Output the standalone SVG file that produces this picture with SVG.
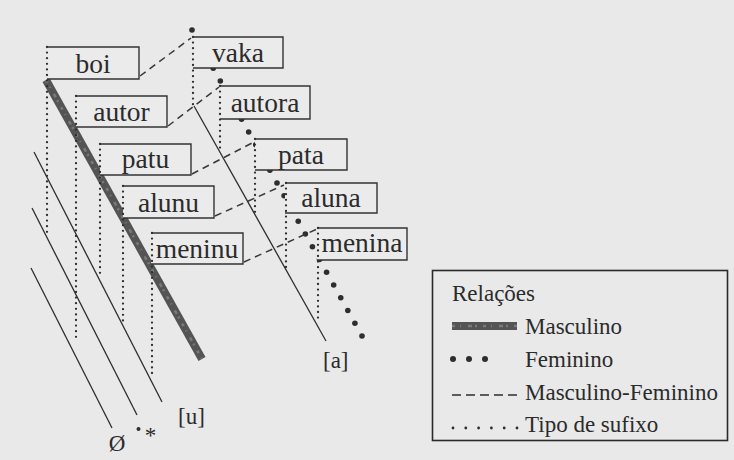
<svg xmlns="http://www.w3.org/2000/svg" width="734" height="460" viewBox="0 0 734 460">
<defs>
<style>
.bg{fill:#e9e9e9}
.box{fill:#ebebeb;stroke:#333;stroke-width:1.4}
.lbl{font-family:"Liberation Serif","Times New Roman",serif;font-size:27.5px;fill:#2b2b2b;text-anchor:middle}
.txt{font-family:"Liberation Serif","Times New Roman",serif;font-size:23px;fill:#2b2b2b}
.thin{stroke:#2e2e2e;stroke-width:1.3;fill:none}
.dash{stroke:#383838;stroke-width:1.5;fill:none;stroke-dasharray:7 5}
.dot{stroke:#2e2e2e;stroke-width:2.3;fill:none;stroke-dasharray:0 5.6;stroke-linecap:round}
.fem{fill:#2e2e2e}
.masc{stroke:#545454;stroke-width:8;fill:none}
.masctex{stroke:#7a7a7a;stroke-width:2.5;fill:none;stroke-dasharray:3 5 1 7 4 3 2 6}
</style>
</defs>
<rect class="bg" x="0" y="0" width="734" height="460"/>

<g id="connectors">
  <!-- suffix-type guide lines -->
  <line class="thin" x1="31" y1="268" x2="112" y2="428"/>
  <line class="thin" x1="32" y1="208" x2="137" y2="415"/>
  <line class="thin" x1="34" y1="152" x2="162" y2="402"/>
  <line class="thin" x1="194" y1="106" x2="326" y2="341"/>
  <!-- Masculino relation -->
  <line class="masc" x1="46" y1="80" x2="202" y2="359"/>
  <line class="masctex" x1="46" y1="80" x2="202" y2="359"/>
  <!-- Feminino relation -->
  <g id="feminino">
    <circle class="fem" cx="192" cy="30" r="2.8"/>
    <circle class="fem" cx="199.08" cy="42.75" r="2.8"/>
    <circle class="fem" cx="206.17" cy="55.5" r="2.8"/>
    <circle class="fem" cx="213.25" cy="68.25" r="2.8"/>
    <circle class="fem" cx="220.33" cy="81" r="2.8"/>
    <circle class="fem" cx="227.42" cy="93.75" r="2.8"/>
    <circle class="fem" cx="234.5" cy="106.5" r="2.8"/>
    <circle class="fem" cx="241.58" cy="119.25" r="2.8"/>
    <circle class="fem" cx="248.67" cy="132" r="2.8"/>
    <circle class="fem" cx="255.75" cy="144.75" r="2.8"/>
    <circle class="fem" cx="262.83" cy="157.5" r="2.8"/>
    <circle class="fem" cx="269.92" cy="170.25" r="2.8"/>
    <circle class="fem" cx="277" cy="183" r="2.8"/>
    <circle class="fem" cx="284.08" cy="195.75" r="2.8"/>
    <circle class="fem" cx="291.17" cy="208.5" r="2.8"/>
    <circle class="fem" cx="298.25" cy="221.25" r="2.8"/>
    <circle class="fem" cx="305.33" cy="234" r="2.8"/>
    <circle class="fem" cx="312.42" cy="246.75" r="2.8"/>
    <circle class="fem" cx="319.5" cy="259.5" r="2.8"/>
    <circle class="fem" cx="326.58" cy="272.25" r="2.8"/>
    <circle class="fem" cx="333.67" cy="285" r="2.8"/>
    <circle class="fem" cx="340.75" cy="297.75" r="2.8"/>
    <circle class="fem" cx="347.83" cy="310.5" r="2.8"/>
    <circle class="fem" cx="354.92" cy="323.25" r="2.8"/>
    <circle class="fem" cx="362" cy="336" r="2.8"/>
  </g>
  <!-- Masculino-Feminino -->
  <line class="dash" x1="140" y1="76" x2="191" y2="38"/>
  <line class="dash" x1="168" y1="126" x2="219" y2="87"/>
  <line class="dash" x1="192" y1="174" x2="254" y2="142"/>
  <line class="dash" x1="215" y1="216" x2="284" y2="185"/>
  <line class="dash" x1="244" y1="262" x2="317" y2="229"/>
</g>

<g id="boi"><path class="box" d="M47,47 H139 V79 H47"/><text class="lbl" x="93" y="73">boi</text></g>
<g id="autor"><path class="box" d="M76,96 H167 V127 H76"/><text class="lbl" x="121.5" y="121">autor</text></g>
<g id="patu"><path class="box" d="M100,144 H191 V175 H100"/><text class="lbl" x="145.5" y="168">patu</text></g>
<g id="alunu"><path class="box" d="M123,186 H214 V218 H123"/><text class="lbl" x="168.5" y="212">alunu</text></g>
<g id="meninu"><path class="box" d="M151,233 H243 V264 H151"/><text class="lbl" x="197" y="258">meninu</text></g>
<g id="vaka"><path class="box" d="M193,37 H283 V68 H193"/><text class="lbl" x="238" y="62">vaka</text></g>
<g id="autora"><path class="box" d="M220,86 H310 V119 H220"/><text class="lbl" x="265" y="112">autora</text></g>
<g id="pata"><path class="box" d="M255,139 H347 V170 H255"/><text class="lbl" x="301" y="164">pata</text></g>
<g id="aluna"><path class="box" d="M285,183 H377 V213 H285"/><text class="lbl" x="331" y="207">aluna</text></g>
<g id="menina"><path class="box" d="M317,228 H407 V260 H317"/><text class="lbl" x="362" y="252">menina</text></g>

<g id="suffix-lines">
  <line class="dot" x1="47" y1="47" x2="47" y2="233"/>
  <line class="dot" x1="76" y1="96" x2="76" y2="338"/>
  <line class="dot" x1="100" y1="144" x2="100" y2="278"/>
  <line class="dot" x1="123" y1="186" x2="123" y2="322"/>
  <line class="dot" x1="152" y1="233" x2="152" y2="376"/>
  <line class="dot" x1="193" y1="37" x2="193" y2="107"/>
  <line class="dot" x1="220" y1="86" x2="220" y2="152"/>
  <line class="dot" x1="255" y1="139" x2="255" y2="214"/>
  <line class="dot" x1="286" y1="183" x2="286" y2="268"/>
  <line class="dot" x1="318" y1="228" x2="318" y2="322"/>
</g>

<g id="suffix-labels">
  <text class="txt" x="117" y="451" text-anchor="middle" font-size="24">Ø</text>
  <circle class="fem" cx="138.5" cy="429" r="2"/>
  <text class="txt" x="150.5" y="443" text-anchor="middle" font-size="24">*</text>
  <text class="txt" x="178" y="424" font-size="24">[u]</text>
  <text class="txt" x="323" y="368" font-size="24">[a]</text>
</g>

<g id="legend">
  <rect x="432.5" y="270.5" width="295" height="170" fill="none" stroke="#2a2a2a" stroke-width="1.6"/>
  <text class="txt" x="452" y="301">Relações</text>
  <line class="masc" x1="452" y1="326" x2="517" y2="326" stroke-width="7"/>
  <line class="masctex" x1="452" y1="326" x2="517" y2="326" stroke-width="2.5"/>
  <text class="txt" x="525" y="334">Masculino</text>
  <circle class="fem" cx="453" cy="359" r="3"/>
  <circle class="fem" cx="469" cy="359" r="3"/>
  <circle class="fem" cx="485" cy="359" r="3"/>
  <text class="txt" x="525" y="367">Feminino</text>
  <line x1="452" y1="395" x2="517" y2="395" stroke="#2e2e2e" stroke-width="1.7" stroke-dasharray="9 5"/>
  <text class="txt" x="525" y="400">Masculino-Feminino</text>
  <line x1="453" y1="428" x2="517" y2="428" stroke="#2e2e2e" stroke-width="2.8" stroke-linecap="round" stroke-dasharray="0 12.8"/>
  <text class="txt" x="525" y="432">Tipo de sufixo</text>
</g>
</svg>
